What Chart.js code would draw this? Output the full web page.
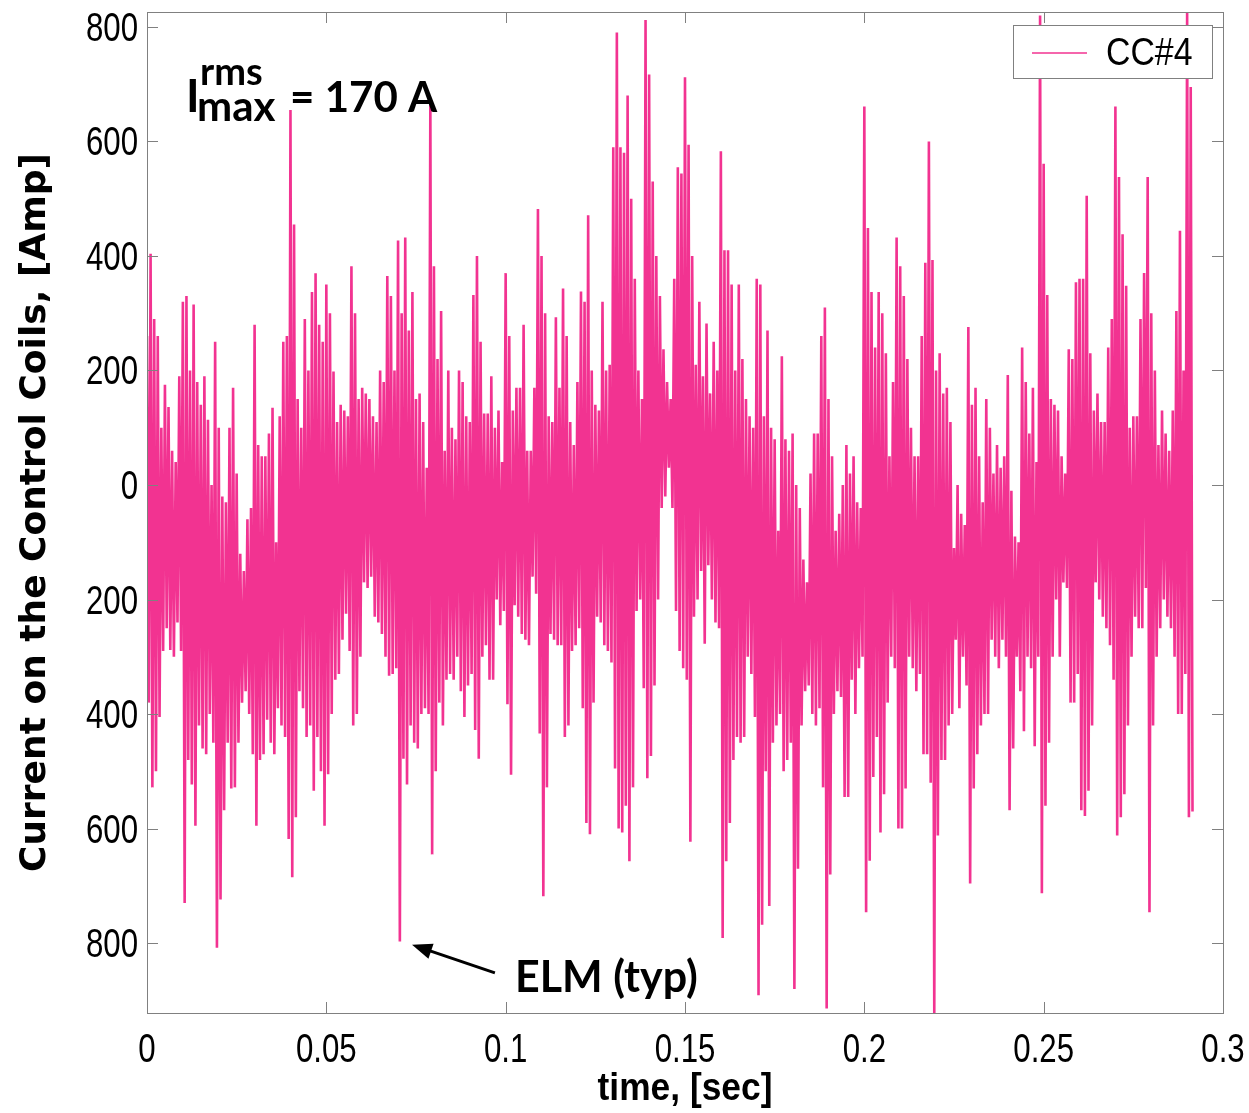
<!DOCTYPE html>
<html>
<head>
<meta charset="utf-8">
<script src="https://cdn.jsdelivr.net/npm/chart.js@4.4.1/dist/chart.umd.min.js"></script>
<style>
  html, body { margin: 0; padding: 0; background: #fff; }
  canvas { display: block; }
</style>
</head>
<body>
<canvas id="cc4" width="1249" height="1113"></canvas>
<script>
// coil current CC#4, one high and one low peak per 1 ms window (Amp)
const WINDOW_SEC = 0.001
const peakHigh = [
  260, 404, 290, 260, 100, 175, 136, 60, 40, 190,
  320, 330, 200, 315, 180, 140, 190, 114, 0, 250,
  100, -20, -30, 100, 170, 20, -120, -150, -60, -40,
  280, 70, 50, 50, 90, 135, -100, 120, 250, 260,
  655, 455, 150, 100, 290, 200, 337, 370, 280, 250,
  350, 300, 198, 110, 140, 130, 120, 382, 300, 150,
  170, 160, 150, 120, 110, 200, 180, 365, 330, 200,
  427, 300, 432, 270, 337, 150, 160, 110, 30, 672,
  382, 220, 304, 60, 200, 100, 80, 200, 180, 120,
  110, 332, 400, 250, 125, 125, 190, 100, 130, 40,
  370, 260, 130, 170, 170, 280, 60, 60, 170, 482,
  400, 300, 120, 110, 293, 170, 343, 260, 110, 70,
  180, 338, 320, 471, 200, 140, 130, 320, 200, 210,
  590, 790, 590, 580, 680, 500, 360, 200, 150, 812,
  717, 530, 400, 330, 237, 180, 150, 360, 555, 544,
  712, 594, 400, 210, 320, 190, 282, 160, 250, 200,
  583, 410, 410, 350, 200, 350, 220, 150, 120, 100,
  360, 350, 120, 270, 100, 80, -80, 225, 80, 60,
  90, 0, -40, -130, -170, 20, 90, 90, 260, 310,
  150, 50, -80, -50, 0, 70, 20, 50, -30, -40,
  661, 449, 337, 240, 337, 300, 230, 50, 180, 432,
  382, 330, 220, 100, 50, 50, 260, 388, 600, 393,
  200, 230, 160, 170, 110, -110, 0, -50, -70, 276,
  140, 170, 50, -30, 150, 100, 20, 70, 30, 50,
  192, -10, -90, -100, 240, 180, 90, 170, 40, 820,
  561, 332, 150, 140, 130, 50, 20, 237, 220, 354,
  360, 360, 505, 230, 130, 160, 110, 110, 240, 290,
  661, 538, 438, 348, 100, 120, 120, 290, 370, 538,
  300, 200, 70, 130, 90, 60, 130, 304, 444, 200,
  826, 695
]
const peakLow = [
  -380, -528, -500, -405, -290, -250, -288, -300, -240, -290,
  -730, -480, -523, -595, -420, -460, -470, -400, -450, -808,
  -724, -568, -450, -530, -528, -450, -380, -360, -400, -470,
  -595, -480, -470, -410, -450, -470, -390, -420, -440, -618,
  -685, -580, -360, -390, -440, -420, -534, -440, -500, -595,
  -505, -400, -340, -330, -270, -225, -290, -420, -400, -300,
  -170, -180, -160, -230, -240, -260, -300, -333, -330, -320,
  -797, -478, -523, -420, -450, -460, -400, -390, -400, -645,
  -500, -380, -420, -340, -330, -340, -300, -360, -405, -350,
  -330, -428, -478, -300, -280, -340, -340, -200, -245, -220,
  -383, -506, -210, -230, -260, -270, -280, -160, -190, -434,
  -718, -528, -260, -270, -280, -280, -440, -420, -290, -280,
  -250, -390, -590, -610, -380, -230, -240, -280, -290, -310,
  -495, -600, -607, -560, -657, -528, -220, -200, -355, -512,
  -473, -350, -200, -40, -20, 30, -40, -220, -290, -320,
  -340, -623, -230, -200, -150, -277, -140, -200, -240, -250,
  -791, -657, -590, -480, -440, -450, -440, -300, -330, -405,
  -891, -768, -500, -735, -450, -420, -400, -500, -480, -450,
  -880, -670, -420, -360, -350, -400, -420, -390, -528, -914,
  -680, -400, -360, -370, -545, -545, -340, -400, -320, -300,
  -746, -656, -510, -440, -607, -540, -380, -300, -320, -600,
  -600, -530, -300, -320, -360, -330, -470, -470, -520, -922,
  -612, -480, -480, -420, -400, -270, -390, -300, -350, -696,
  -530, -470, -420, -400, -400, -270, -300, -320, -270, -300,
  -568, -460, -300, -360, -430, -300, -320, -456, -300, -713,
  -560, -450, -300, -200, -300, -170, -180, -380, -380, -330,
  -568, -578, -534, -420, -170, -200, -230, -250, -280, -340,
  -612, -580, -540, -420, -300, -230, -250, -250, -180, -746,
  -420, -300, -250, -200, -230, -250, -300, -400, -400, -330,
  -580, -570
]
const xTicks = [0, 0.05, 0.1, 0.15, 0.2, 0.25, 0.3]
const yTicks = [-800, -600, -400, -200, 0, 200, 400, 600, 800]

const PINK = '#f23391'
const FRAME = '#808080'
const SANS = "'Liberation Sans', Arial, sans-serif"
const BOLD = "Lato, 'Open Sans', sans-serif"

// high peak then low peak inside each window, half a window apart
const points = []
peakHigh.forEach((hi, i) => {
  points.push({ x: i * WINDOW_SEC, y: hi })
  points.push({ x: i * WINDOW_SEC + WINDOW_SEC / 2, y: peakLow[i] })
})

// horizontally squeezed text, to get the narrow Helvetica look
function narrow(ctx, text, x, y, align, sx) {
  const w = ctx.measureText(text).width * sx
  const left = align === 'center' ? x - w / 2 : align === 'right' ? x - w : x
  ctx.save()
  ctx.translate(left, y)
  ctx.scale(sx, 1)
  ctx.textAlign = 'left'
  ctx.fillText(text, 0, 0)
  ctx.restore()
}

const frame = {
  id: 'frame',
  afterDatasetsDraw(chart) {
    const { ctx, chartArea: a, scales: { x, y } } = chart
    const tick = 11
    ctx.save()
    ctx.strokeStyle = FRAME
    ctx.lineWidth = 1
    ctx.strokeRect(a.left + 0.5, a.top + 0.5, a.right - a.left, a.bottom - a.top)
    ctx.beginPath()
    yTicks.forEach(v => {
      const py = Math.round(y.getPixelForValue(v)) + 0.5
      ctx.moveTo(a.left, py); ctx.lineTo(a.left + tick, py)
      ctx.moveTo(a.right, py); ctx.lineTo(a.right - tick, py)
    })
    xTicks.forEach(v => {
      const px = Math.round(x.getPixelForValue(v)) + 0.5
      ctx.moveTo(px, a.bottom); ctx.lineTo(px, a.bottom - tick)
      ctx.moveTo(px, a.top); ctx.lineTo(px, a.top + tick)
    })
    ctx.stroke()

    // tick labels (minus signs are absent on the original axis)
    ctx.fillStyle = '#000'
    ctx.textBaseline = 'alphabetic'
    ctx.font = `40px ${SANS}`
    yTicks.forEach(v => {
      narrow(ctx, String(Math.abs(v)), a.left - 9, y.getPixelForValue(v) + 14, 'right', 0.78)
    })
    xTicks.forEach(v => {
      narrow(ctx, String(v), x.getPixelForValue(v), a.bottom + 49, 'center', 0.78)
    })
    ctx.font = `bold 38px ${SANS}`
    narrow(ctx, 'time, [sec]', (a.left + a.right) / 2, a.bottom + 87, 'center', 0.93)

    // legend box
    const lw = 199, lh = 53
    const lx = a.right - 11 - lw, ly = a.top + 13
    ctx.fillStyle = '#fff'
    ctx.fillRect(lx, ly, lw, lh)
    ctx.strokeStyle = FRAME
    ctx.strokeRect(lx + 0.5, ly + 0.5, lw, lh)
    ctx.strokeStyle = PINK
    ctx.lineWidth = 1.5
    ctx.beginPath()
    ctx.moveTo(lx + 19, ly + 28); ctx.lineTo(lx + 74, ly + 28)
    ctx.stroke()
    ctx.fillStyle = '#000'
    ctx.font = `38px ${SANS}`
    narrow(ctx, chart.data.datasets[0].label, lx + 93, ly + 40, 'left', 0.89)

    // I^rms_max = 170 A
    const ix = x.getPixelForValue(0.0109), iy = y.getPixelForValue(652)
    ctx.font = `bold 46px ${BOLD}`
    ctx.fillText('I', ix, iy)
    ctx.font = `bold 38px ${BOLD}`
    ctx.fillText('rms', ix + 14, iy - 27)
    ctx.font = `bold 42px ${BOLD}`
    ctx.fillText('max', ix + 11, iy + 9)
    ctx.fillText('= 170 A', ix + 104, iy)

    // ELM (typ) arrow
    const tipX = x.getPixelForValue(0.0739), tipY = y.getPixelForValue(-803)
    const tailX = x.getPixelForValue(0.0970), tailY = y.getPixelForValue(-852)
    const ang = Math.atan2(tipY - tailY, tipX - tailX)
    ctx.strokeStyle = '#000'
    ctx.lineWidth = 3
    ctx.beginPath()
    ctx.moveTo(tailX, tailY)
    ctx.lineTo(tipX - 12 * Math.cos(ang), tipY - 12 * Math.sin(ang))
    ctx.stroke()
    ctx.beginPath()
    ctx.moveTo(tipX, tipY)
    ctx.lineTo(tipX - 20 * Math.cos(ang) + 8 * Math.sin(ang), tipY - 20 * Math.sin(ang) - 8 * Math.cos(ang))
    ctx.lineTo(tipX - 20 * Math.cos(ang) - 8 * Math.sin(ang), tipY - 20 * Math.sin(ang) + 8 * Math.cos(ang))
    ctx.closePath()
    ctx.fillStyle = '#000'
    ctx.fill()
    ctx.font = `bold 43px ${BOLD}`
    ctx.fillText('ELM (typ)', x.getPixelForValue(0.1026), y.getPixelForValue(-886))
    ctx.restore()
  }
}

new Chart(document.getElementById('cc4'), {
  type: 'line',
  data: {
    datasets: [{
      label: 'CC#4',
      data: points,
      borderColor: PINK,
      borderWidth: 2.6,
      pointRadius: 0,
      tension: 0,
      fill: false,
    }]
  },
  options: {
    responsive: false,
    animation: false,
    devicePixelRatio: 1,
    layout: { padding: { top: 12, right: 26, left: 0, bottom: 0 } },
    scales: {
      x: {
        type: 'linear',
        min: 0,
        max: 0.3,
        afterBuildTicks: s => { s.ticks = xTicks.map(v => ({ value: v })) },
        afterFit: s => { s.height = 100 },
        grid: { display: false, drawTicks: false },
        border: { display: false },
        ticks: { display: false },
      },
      y: {
        type: 'linear',
        min: -922,
        max: 826,
        afterBuildTicks: s => { s.ticks = yTicks.map(v => ({ value: v })) },
        afterFit: s => { s.width = 147 },
        grid: { display: false, drawTicks: false },
        border: { display: false },
        ticks: { display: false },
        title: {
          display: true,
          text: 'Current on the Control Coils, [Amp]',
          color: '#000',
          font: { family: "'DejaVu Sans', sans-serif", size: 36, weight: 'bold' },
          padding: { top: 14, bottom: 0 },
        },
      },
    },
    plugins: {
      legend: { display: false },
      tooltip: { enabled: false },
    },
  },
  plugins: [frame],
})
</script>
</body>
</html>
